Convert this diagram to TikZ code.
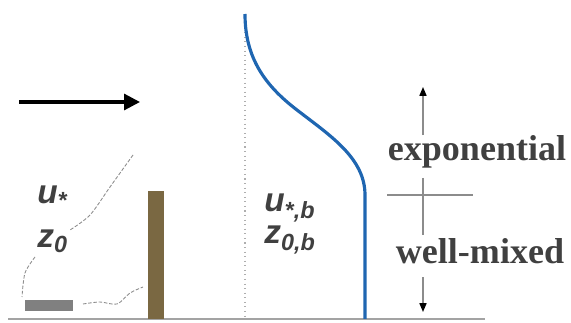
\documentclass[tikz,border=0pt]{standalone}
\usepackage{fontspec}
\setmainfont{Liberation Serif}
\setsansfont{Liberation Sans}
\usetikzlibrary{arrows.meta}
\definecolor{txt}{HTML}{404040}
\definecolor{profblue}{HTML}{1F66B1}
\definecolor{barbrown}{HTML}{7A6842}
\definecolor{rockgray}{HTML}{808080}
\definecolor{linegray}{HTML}{8C8C8C}

\begin{document}
\begin{tikzpicture}[
    every node/.style={inner sep=0pt},
    sym/.style={font=\sffamily\bfseries\itshape\fontsize{19}{19}\selectfont, text=txt, anchor=base west},
    zone/.style={font=\bfseries\fontsize{20.5}{20.5}\selectfont, text=txt, anchor=base,
                 text height=13pt, text depth=4pt},
    rock/.style={rectangle, fill=rockgray, minimum width=0.96cm, minimum height=0.22cm},
    stem/.style={rectangle, fill=barbrown, minimum width=0.32cm, minimum height=2.56cm, anchor=south},
    wind/.style={-{Triangle[length=9pt, width=9pt]}, line width=1.8pt, color=black},
    trail/.style={linegray, line width=0.5pt, dash pattern=on 2pt off 1pt},
    profile/.style={profblue, line width=1.8pt},
    zline/.style={linegray, line width=0.7pt},
    zarrow/.style={zline, -{Triangle[length=5pt, width=4pt]}, arrows={[color=black]}},
]
\useasboundingbox (0,0) rectangle (11.42,6.46);

% ground and obstacles
\coordinate (gl) at (0.16,0.08);
\coordinate (gr) at (9.70,0.08);
\draw[linegray!80, line width=0.9pt] (gl) -- (gr);
\node[rock] (rock) at (0.98,0.35) {};
\node[stem] (stem) at (3.12,0.08) {};

% incoming wind
\coordinate (windtail) at (0.38,4.42);
\coordinate (windhead) at (2.80,4.42);
\draw[wind] (windtail) -- (windhead);

% surface parameters
\node[sym] (ustar) at (0.74,2.40) {u\textsubscript{*}};
\node[sym] (zzero) at (0.74,1.52) {z\textsubscript{0}};
\draw[trail] plot[smooth] coordinates {(2.66,3.36) (2.20,2.72) (1.80,2.16) (1.40,1.86)};
\draw[trail] plot[smooth] coordinates {(0.70,1.32) (0.50,1.00) (0.44,0.52)};
\draw[trail] plot[smooth] coordinates {(1.66,0.38) (2.00,0.42) (2.34,0.38) (2.60,0.60) (2.86,0.72)};

% wind profile inside the canopy
\coordinate (ptop) at (4.90,6.18);
\coordinate (pbot) at (4.90,0.08);
\coordinate (bend) at (7.30,2.56);
\coordinate (foot) at (7.30,0.08);
\draw[linegray!70, line width=0.6pt, dotted] (ptop) -- (pbot);
\draw[profile] (ptop) .. controls (4.90,5.30) and (5.30,4.75) .. (5.94,4.26)
    .. controls (6.60,3.75) and (7.30,3.30) .. (bend) -- (foot);
\node[sym] (ustarb) at (5.28,2.22) {u\textsubscript{*,b}};
\node[sym] (zzerob) at (5.28,1.58) {z\textsubscript{0,b}};

% height zones
\coordinate (ztop) at (8.46,4.72);
\coordinate (zbot) at (8.46,0.22);
\coordinate (zmid) at (8.46,2.56);
\coordinate (hl) at (7.74,2.56);
\coordinate (hr) at (9.46,2.56);
\node[zone] (expo) at (9.54,3.26) {exponential};
\node[zone] (wmix) at (9.60,1.20) {well-mixed};
\draw[zarrow, shorten <=1pt] (expo.north -| zmid) -- (ztop);
\draw[zline, shorten <=6pt, shorten >=3pt] (expo.south -| zmid) -- (wmix.north -| zmid);
\draw[zarrow, shorten <=4pt] (wmix.south -| zmid) -- (zbot);
\draw[zline] (hl) -- (hr);
\end{tikzpicture}
\end{document}
